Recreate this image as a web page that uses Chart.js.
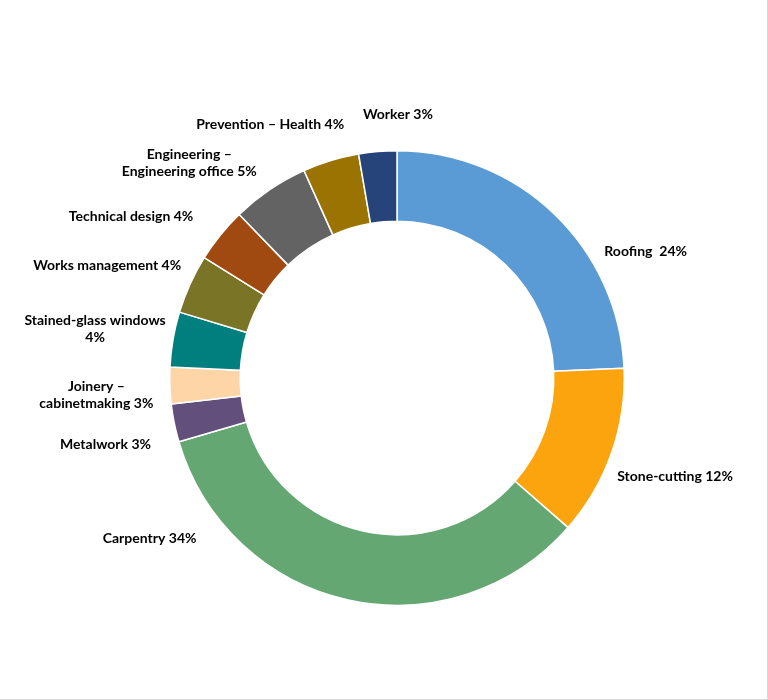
<!DOCTYPE html>
<html>
<head>
<meta charset="utf-8">
<script src="https://cdn.jsdelivr.net/npm/chart.js@4.4.1/dist/chart.umd.min.js"></script>
<style>
  html, body { margin: 0; padding: 0; background: #fff; }
  #wrap { position: relative; width: 767px; height: 699px; border-right: 1px solid #d9d9d9; border-bottom: 1px solid #d9d9d9; }
</style>
</head>
<body>
<div id="wrap"><canvas id="c"></canvas></div>
<script>
// ---- data ----
const categories = ["Roofing", "Stone-cutting", "Carpentry", "Metalwork", "Joinery – cabinetmaking",
  "Stained-glass windows", "Works management", "Technical design", "Engineering – Engineering office",
  "Prevention – Health", "Worker"];
const shares = [24.3, 12.1, 34.0, 2.7, 2.6, 3.9, 4.2, 3.9, 5.5, 4.0, 2.7];
const labelLines = [
  ["Roofing  24%"],
  ["Stone-cutting 12%"],
  ["Carpentry 34%"],
  ["Metalwork 3%"],
  ["Joinery –", "cabinetmaking 3%"],
  ["Stained-glass windows", "4%"],
  ["Works management 4%"],
  ["Technical design 4%"],
  ["Engineering –", "Engineering office 5%"],
  ["Prevention – Health 4%"],
  ["Worker 3%"]
];
const sliceColors = ["#5B9BD5", "#FBA40E", "#65A773", "#624F7C", "#FDD5A6", "#007F7F",
  "#7A7426", "#A04A11", "#636363", "#9A7302", "#264479"];

// ---- label layout (angle from top clockwise in degrees, distance as multiple of outer radius) ----
const labelPlacement = [
  [63, 1.228], [109.5, 1.298], [237, 1.298], [257.1, 1.316], [266.8, 1.325],
  [279.2, 1.346], [291.2, 1.368], [301.2, 1.368], [316, 1.316], [333.4, 1.246], [0.2, 1.158]
];

const outsideLabels = {
  id: 'outsideLabels',
  afterDatasetsDraw(chart) {
    const meta = chart.getDatasetMeta(0);
    const arc0 = meta.data[0];
    const cx = arc0.x, cy = arc0.y, R = arc0.outerRadius;
    const ctx = chart.ctx;
    ctx.save();
    ctx.font = 'bold 14px Lato, "Liberation Sans", sans-serif';
    ctx.fillStyle = '#000';
    ctx.textAlign = 'center';
    ctx.textBaseline = 'middle';
    const lh = 17.5;
    labelLines.forEach((lines, i) => {
      const [deg, f] = labelPlacement[i];
      const a = deg * Math.PI / 180;
      const x = cx + Math.sin(a) * R * f;
      const y = cy - Math.cos(a) * R * f;
      const y0 = y - (lines.length - 1) * lh / 2;
      lines.forEach((t, k) => ctx.fillText(t, x, y0 + k * lh));
    });
    ctx.restore();
  }
};

new Chart(document.getElementById('c'), {
  type: 'doughnut',
  data: {
    labels: categories,
    datasets: [{
      data: shares,
      backgroundColor: sliceColors,
      borderColor: '#ffffff',
      borderWidth: 1.5
    }]
  },
  options: {
    responsive: true,
    maintainAspectRatio: false,
    animation: false,
    cutout: '69%',
    rotation: 0,
    layout: { padding: { left: 100, right: 73, top: 150, bottom: 93 } },
    plugins: { legend: { display: false }, tooltip: { enabled: false } }
  },
  plugins: [outsideLabels]
});
</script>
</body>
</html>
